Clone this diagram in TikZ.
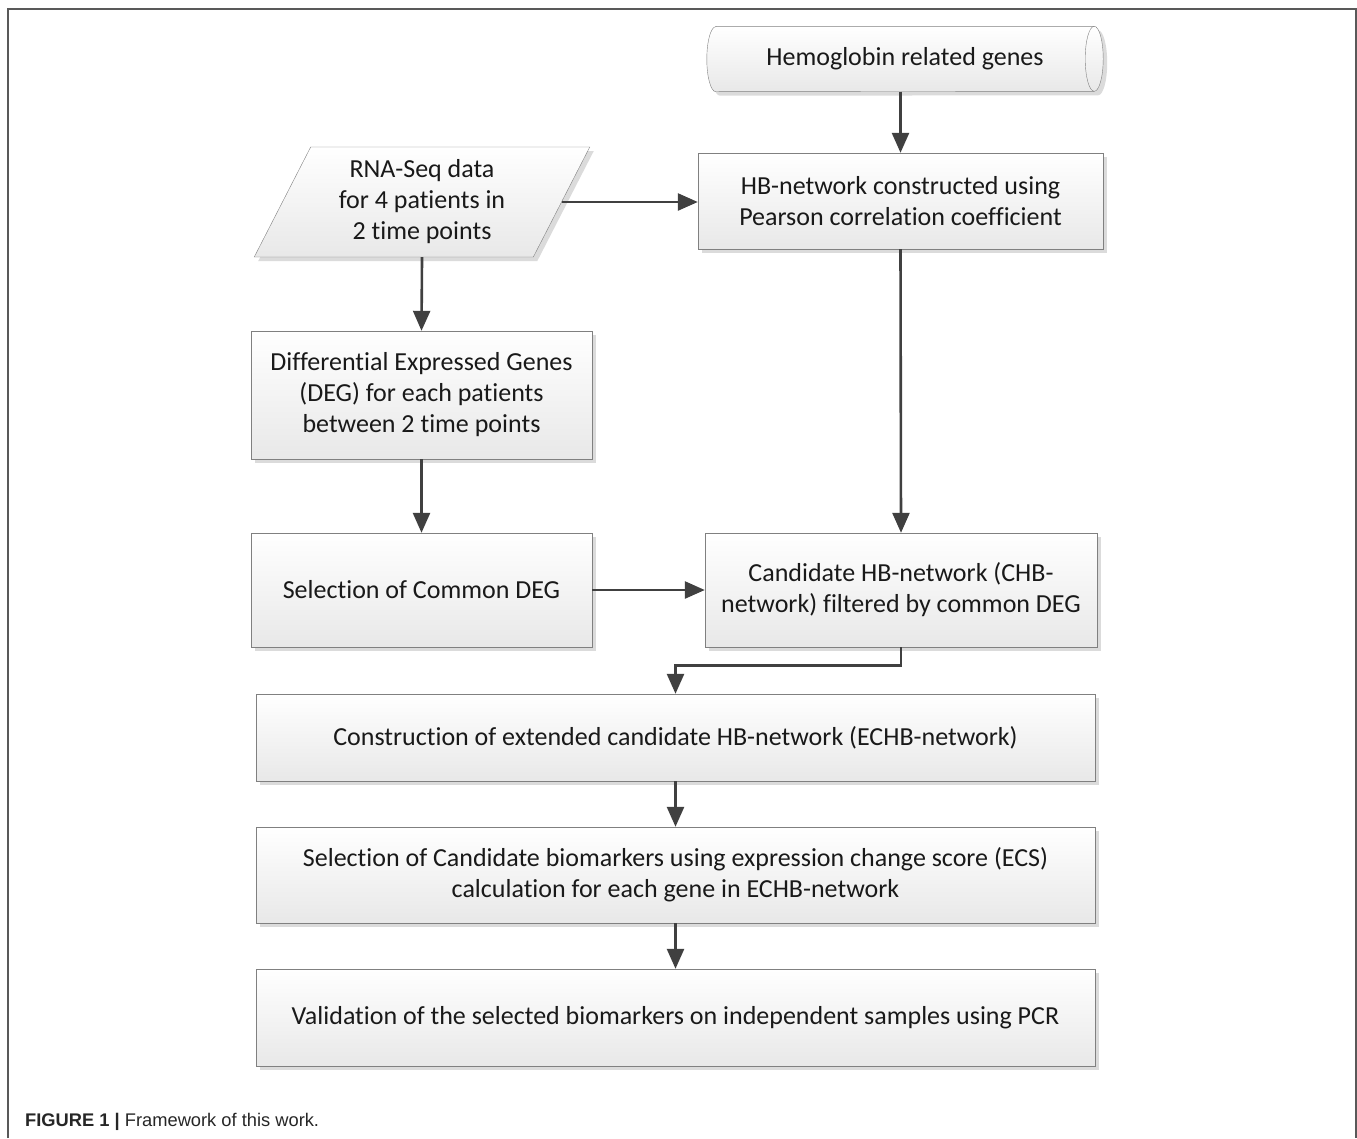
\documentclass[tikz,border=0pt]{standalone}
\usepackage{fontspec}
\setmainfont{Carlito}[Ligatures=NoCommon]
\newfontfamily\captionfont{Liberation Sans}
\usetikzlibrary{shapes.geometric, arrows.meta, shadows, backgrounds}
\definecolor{arrowgray}{HTML}{404040}
\definecolor{edgegray}{HTML}{808080}
\tikzstyle{boxfill}=[draw=edgegray, thin, top color=white, bottom color=black!9,
  drop shadow={shadow xshift=4pt, shadow yshift=-4pt, fill=black!14, opacity=1}]
\tikzstyle{box}=[boxfill, rectangle, align=center, inner sep=0pt, text=black!90]
\tikzstyle{arrow}=[draw=arrowgray, line width=2.6pt,
  -{Triangle[length=20pt, width=17pt]}]

\begin{document}
\begin{tikzpicture}[x=1pt, y=1pt, font=\fontsize{26}{31}\selectfont]
\tikzstyle{para}=[box, trapezium, trapezium left angle=63.4, trapezium right angle=116.6,
  trapezium stretches=true, minimum width=336, minimum height=110]
  \useasboundingbox (0,0) rectangle (1357,-1138);
  \draw[black!65, line width=1.4pt] (8,-1138) |- (1356,-9) -- (1356,-1138);
  % top row
  \node[minimum width=396, minimum height=65, inner sep=0pt, text=black!90] (hemo) at (905,-59)
    {Hemoglobin related genes};
  \begin{pgfonlayer}{background}
    \path[boxfill] ([xshift=9pt]hemo.north west) -- ([xshift=-9pt]hemo.north east)
      arc[start angle=90, end angle=-90, x radius=9, y radius=32.5]
      -- ([xshift=9pt]hemo.south west)
      arc[start angle=270, end angle=90, x radius=9, y radius=32.5] -- cycle;
    \draw[edgegray, thin] ([xshift=-9pt]hemo.north east)
      arc[start angle=90, end angle=270, x radius=9, y radius=32.5];
  \end{pgfonlayer}
  \node[para] (rnaseq) at (422,-202) {RNA-Seq data\\for 4 patients in\\2 time points};
  \node[box, minimum width=405, minimum height=96] (hbnet) at (900.5,-201)
    {HB-network constructed using\\Pearson correlation coefficient};
  % left column
  \node[box, minimum width=341, minimum height=128] (deg) at (421.5,-395)
    {Differential Expressed Genes\\(DEG) for each patients\\between 2 time points};
  \node[box, minimum width=341, minimum height=114] (common) at (421.5,-590)
    {Selection of Common DEG};
  \node[box, minimum width=392, minimum height=114] (chb) at (901,-590)
    {Candidate HB-network (CHB-\\network) filtered by common DEG};
  % wide boxes
  \node[box, minimum width=839, minimum height=87] (echb) at (675.5,-737.5)
    {Construction of extended candidate HB-network (ECHB-network)};
  \node[box, minimum width=839, minimum height=96] (ecs) at (675.5,-875)
    {Selection of Candidate biomarkers using expression change score (ECS)\\calculation for each gene in ECHB-network};
  \node[box, minimum width=839, minimum height=97] (pcr) at (675.5,-1017.5)
    {Validation of the selected biomarkers on independent samples using PCR};
  % connectors
  \draw[arrow] (hemo.south -| hbnet.north) -- (hbnet.north);
  \draw[arrow] (rnaseq.east) -- (rnaseq.east -| hbnet.west);
  \foreach \source/\dest in {rnaseq/deg, deg/common, hbnet/chb, echb/ecs, ecs/pcr}
    \draw[arrow] (\source.south) -- (\dest.north);
  \draw[arrow] (common.east) -- (chb.west);
  \draw[arrow] (chb.south) -- ++(0,-18) -| (echb.north);
  % caption
  \node[anchor=base west, font=\captionfont\fontsize{18.3}{22}\selectfont, text=black!85, inner sep=0pt]
    (caption) at (25,-1126) {\textbf{FIGURE 1 |} Framework of this work.};
\end{tikzpicture}
\end{document}
